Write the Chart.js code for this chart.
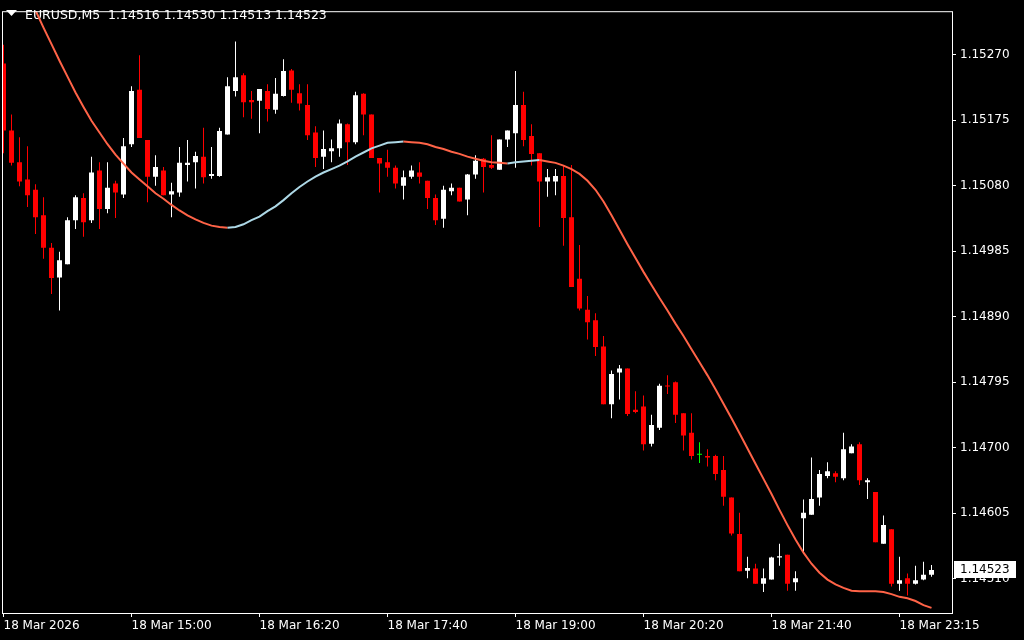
<!DOCTYPE html>
<html><head><meta charset="utf-8">
<style>html,body{margin:0;padding:0;background:#000;overflow:hidden}#wrap{width:1024px;height:640px}</style>
<script src="https://cdn.jsdelivr.net/npm/chart.js@4/dist/chart.umd.min.js"></script>
</head><body><div id="wrap"><canvas id="c" width="1024" height="640"></canvas></div>
<script>
const symbolName = 'EURUSD';
const timeframe = 'M5';
const openP = [1.15257,1.15160,1.15114,1.15089,1.15074,1.15037,1.14990,1.14947,1.14966,1.15030,
1.15062,1.15030,1.15102,1.15046,1.15083,1.15067,1.15140,1.15219,1.15146,1.15093,
1.15102,1.15067,1.15070,1.15110,1.15114,1.15122,1.15094,1.15094,1.15154,1.15217,
1.15240,1.15204,1.15203,1.15217,1.15190,1.15210,1.15247,1.15214,1.15197,1.15157,
1.15122,1.15130,1.15134,1.15169,1.15143,1.15213,1.15183,1.15120,1.15114,1.15106,
1.15080,1.15093,1.15099,1.15087,1.15062,1.15032,1.15072,1.15077,1.15060,1.15096,
1.15119,1.15110,1.15103,1.15147,1.15156,1.15197,1.15152,1.15127,1.15086,1.15086,
1.15094,1.15034,1.14945,1.14900,1.14885,1.14847,1.14763,1.14809,1.14815,1.14755,
1.14760,1.14706,1.14729,1.14790,1.14795,1.14750,1.14722,1.14690,1.14688,1.14688,
1.14668,1.14628,1.14575,1.14522,1.14525,1.14503,1.14509,1.14541,1.14545,1.14505,
1.14598,1.14603,1.14628,1.14659,1.14663,1.14656,1.14692,1.14705,1.14650,1.14636,
1.14561,1.14582,1.14503,1.14511,1.14503,1.14509,1.14516];
const highP = [1.15284,1.15183,1.15150,1.15137,1.15082,1.15063,1.14997,1.14984,1.15034,1.15066,
1.15069,1.15122,1.15114,1.15114,1.15087,1.15149,1.15224,1.15269,1.15146,1.15124,
1.15107,1.15084,1.15136,1.15146,1.15129,1.15164,1.15136,1.15164,1.15237,1.15289,
1.15243,1.15217,1.15220,1.15227,1.15236,1.15263,1.15249,1.15227,1.15227,1.15166,
1.15160,1.15147,1.15176,1.15170,1.15216,1.15214,1.15183,1.15120,1.15132,1.15109,
1.15102,1.15109,1.15114,1.15087,1.15067,1.15080,1.15083,1.15077,1.15097,1.15124,
1.15120,1.15153,1.15147,1.15160,1.15246,1.15216,1.15169,1.15127,1.15104,1.15104,
1.15110,1.15110,1.14994,1.14920,1.14895,1.14862,1.14812,1.14820,1.14815,1.14782,
1.14776,1.14748,1.14793,1.14805,1.14796,1.14750,1.14750,1.14708,1.14698,1.14690,
1.14688,1.14628,1.14606,1.14542,1.14532,1.14525,1.14542,1.14561,1.14545,1.14521,
1.14625,1.14686,1.14668,1.14679,1.14666,1.14722,1.14705,1.14708,1.14656,1.14636,
1.14602,1.14582,1.14542,1.14518,1.14529,1.14535,1.14530];
const lowP = [1.15127,1.15109,1.15079,1.15049,1.15010,1.14974,1.14923,1.14899,1.14966,1.15017,
1.15006,1.15026,1.15017,1.15040,1.15033,1.15062,1.15136,1.15149,1.15056,1.15080,
1.15066,1.15034,1.15064,1.15086,1.15076,1.15083,1.15090,1.15093,1.15154,1.15209,
1.15179,1.15177,1.15156,1.15173,1.15184,1.15209,1.15200,1.15189,1.15146,1.15107,
1.15104,1.15114,1.15122,1.15110,1.15140,1.15153,1.15120,1.15070,1.15093,1.15076,
1.15060,1.15090,1.15083,1.15046,1.15023,1.15019,1.15066,1.15057,1.15037,1.15090,
1.15070,1.15104,1.15103,1.15136,1.15106,1.15137,1.15109,1.15020,1.15064,1.15066,
1.14993,1.14933,1.14899,1.14857,1.14833,1.14763,1.14743,1.14770,1.14746,1.14750,
1.14696,1.14702,1.14726,1.14778,1.14736,1.14696,1.14683,1.14678,1.14673,1.14653,
1.14616,1.14573,1.14521,1.14511,1.14503,1.14491,1.14509,1.14529,1.14493,1.14493,
1.14549,1.14603,1.14616,1.14656,1.14650,1.14653,1.14692,1.14646,1.14626,1.14563,
1.14561,1.14499,1.14493,1.14486,1.14502,1.14508,1.14513];
const closeP = [1.15160,1.15113,1.15086,1.15066,1.15034,1.14990,1.14946,1.14972,1.15030,1.15063,
1.15027,1.15099,1.15046,1.15077,1.15070,1.15137,1.15217,1.15149,1.15093,1.15107,
1.15066,1.15072,1.15113,1.15113,1.15123,1.15092,1.15097,1.15159,1.15224,1.15237,
1.15201,1.15201,1.15220,1.15191,1.15213,1.15246,1.15219,1.15199,1.15153,1.15120,
1.15133,1.15134,1.15170,1.15143,1.15211,1.15183,1.15120,1.15112,1.15106,1.15083,
1.15092,1.15102,1.15093,1.15062,1.15030,1.15074,1.15077,1.15057,1.15096,1.15116,
1.15107,1.15106,1.15147,1.15160,1.15197,1.15146,1.15126,1.15086,1.15092,1.15094,
1.15033,1.14933,1.14902,1.14882,1.14846,1.14763,1.14807,1.14815,1.14749,1.14752,
1.14705,1.14733,1.14790,1.14789,1.14748,1.14718,1.14688,1.14690,1.14686,1.14662,
1.14629,1.14576,1.14521,1.14526,1.14503,1.14511,1.14541,1.14543,1.14503,1.14511,
1.14606,1.14626,1.14662,1.14666,1.14658,1.14698,1.14702,1.14653,1.14653,1.14563,
1.14588,1.14503,1.14508,1.14503,1.14508,1.14516,1.14523];
const maLine = [null,null,null,1.15357,1.15334,1.15309,1.15285,1.15261,1.15238,1.15215,
1.15194,1.15174,1.15157,1.15140,1.15125,1.15112,1.15099,1.15089,1.15079,1.15069,
1.15061,1.15052,1.15044,1.15037,1.15031,1.15026,1.15022,1.15020,1.15019,1.15020,
1.15024,1.15030,1.15035,1.15043,1.15050,1.15059,1.15069,1.15078,1.15086,1.15093,
1.15099,1.15104,1.15109,1.15115,1.15122,1.15128,1.15134,1.15138,1.15142,1.15143,
1.15144,1.15143,1.15142,1.15140,1.15136,1.15133,1.15129,1.15126,1.15122,1.15119,
1.15116,1.15114,1.15113,1.15112,1.15114,1.15115,1.15116,1.15117,1.15115,1.15113,
1.15109,1.15104,1.15097,1.15087,1.15074,1.15057,1.15037,1.15016,1.14995,1.14975,
1.14955,1.14936,1.14917,1.14899,1.14880,1.14862,1.14843,1.14824,1.14805,1.14785,
1.14764,1.14743,1.14721,1.14699,1.14677,1.14655,1.14633,1.14610,1.14588,1.14567,
1.14548,1.14532,1.14519,1.14509,1.14502,1.14497,1.14493,1.14492,1.14492,1.14492,
1.14491,1.14488,1.14484,1.14482,1.14478,1.14472,1.14468];
const timeTickIndex = [0,16,32,48,64,80,96,112];
const timeTickLabels = ['18 Mar 2026','18 Mar 15:00','18 Mar 16:20','18 Mar 17:40','18 Mar 19:00','18 Mar 20:20','18 Mar 21:40','18 Mar 23:15'];
const priceTicks = [1.15270,1.15175,1.15080,1.14985,1.14890,1.14795,1.14700,1.14605,1.14510];

const N = closeP.length;
const idx = closeP.map((_, i) => i);
const UP = '#ffffff', DN = '#ff0000', DOJI = '#00ff00';
const candleColor = idx.map(i => closeP[i] > openP[i] ? UP : (closeP[i] < openP[i] ? DN : DOJI));
const last = N - 1;
const titleText = symbolName + ',' + timeframe + '  ' + [openP[last], highP[last], lowP[last], closeP[last]].map(v => v.toFixed(5)).join(' ');

Chart.defaults.font.family = '"DejaVu Sans"';
Chart.defaults.font.size = 12;
Chart.defaults.color = '#ffffff';

const mtPlugin = {
  id: 'mt',
  beforeDraw(chart) {
    const c = chart.ctx; c.save(); c.fillStyle = '#000'; c.fillRect(0, 0, chart.width, chart.height); c.restore();
  },
  beforeDatasetsDraw(chart) {
    const c = chart.ctx; c.save();
    c.fillStyle = '#ffffff';
    c.beginPath(); c.moveTo(6, 10); c.lineTo(17, 10); c.lineTo(11.5, 16); c.closePath(); c.fill();
    c.font = '12.5px "DejaVu Sans"'; c.textBaseline = 'alphabetic'; c.textAlign = 'left';
    c.fillText(titleText, 25, 19);
    c.restore();
  },
  afterDraw(chart) {
    const c = chart.ctx, a = chart.chartArea;
    c.save();
    c.strokeStyle = '#ffffff'; c.lineWidth = 1;
    c.strokeRect(a.left + 0.5, a.top + 0.5, a.right - a.left, a.bottom - a.top);
    const y = Math.round(chart.scales.y.getPixelForValue(closeP[last]));
    c.fillStyle = '#ffffff';
    c.fillRect(954, y - 9, 62, 17);
    c.fillStyle = '#000000'; c.font = '12px "DejaVu Sans"'; c.textBaseline = 'middle'; c.textAlign = 'left';
    c.fillText(closeP[last].toFixed(5), 960, y);
    c.restore();
  }
};

new Chart(document.getElementById('c'), {
  type: 'bar',
  data: {
    datasets: [
      {
        type: 'line', order: 0, clip: 0,
        data: idx.map(i => ({x: i, y: maLine[i]})),
        borderColor: '#ff6347', borderWidth: 2, pointRadius: 0, tension: 0,
        segment: { borderColor: ctx => ctx.p1.parsed.y > ctx.p0.parsed.y ? '#add8e6' : '#ff6347' }
      },
      {
        order: 1, grouped: false, clip: 0,
        data: idx.map(i => ({x: i, y: [openP[i], closeP[i]]})),
        backgroundColor: candleColor, barThickness: 5, minBarLength: 1, inflateAmount: 0, borderWidth: 0
      },
      {
        order: 2, grouped: false, clip: 0,
        data: idx.map(i => ({x: i, y: [lowP[i], highP[i]]})),
        backgroundColor: candleColor, barThickness: 1, inflateAmount: 0, borderWidth: 0
      }
    ]
  },
  options: {
    responsive: false, animation: false, devicePixelRatio: 1,
    layout: { padding: { left: 2, top: 2, right: 0, bottom: 0 } },
    plugins: { legend: { display: false }, tooltip: { enabled: false } },
    scales: {
      x: {
        type: 'linear', position: 'bottom', offset: false,
        min: -0.1875, max: 118.5625,
        grid: { offset: false, drawOnChartArea: false, drawTicks: true, tickLength: 4, color: '#ffffff' },
        border: { display: false },
        ticks: {
          color: '#ffffff', align: 'start', padding: 2, maxRotation: 0, autoSkip: false,
          callback: v => { const k = timeTickIndex.indexOf(v); return k >= 0 ? timeTickLabels[k] : ''; }
        },
        afterBuildTicks: s => { s.ticks = timeTickIndex.map(v => ({value: v})); },
        afterFit: s => { s.height = 27; }
      },
      y: {
        type: 'linear', position: 'right',
        min: 1.144606, max: 1.153328,
        grid: { drawOnChartArea: false, drawTicks: true, tickLength: 4, color: '#ffffff' },
        border: { display: false },
        ticks: { color: '#ffffff', padding: 4, callback: v => Number(v).toFixed(5) },
        afterBuildTicks: s => { s.ticks = priceTicks.map(v => ({value: v})); },
        afterFit: s => { s.width = 72; }
      }
    }
  },
  plugins: [mtPlugin]
});
</script>
</body></html>
